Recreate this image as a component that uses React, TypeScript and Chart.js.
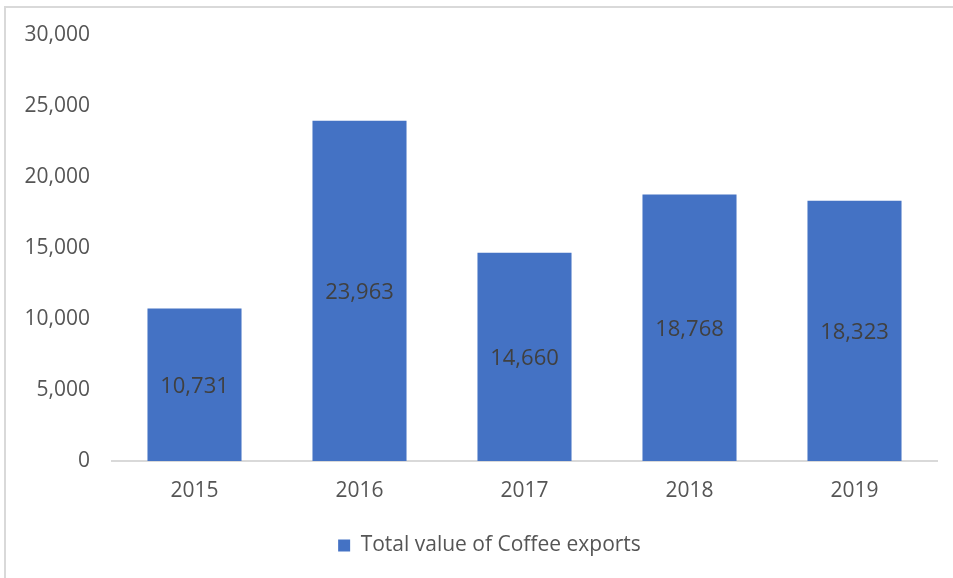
import React, { useEffect, useRef } from "react";
import { Chart, registerables } from "chart.js";

Chart.register(...registerables);

const years = ["2015", "2016", "2017", "2018", "2019"];
const exportValues = [10731, 23963, 14660, 18768, 18323];
const seriesLabel = "Total value of Coffee exports";
const yMax = 30000;
const yStep = 5000;

const FONT = "'Open Sans', 'Noto Sans', sans-serif";
const fmt = (v: number) => v.toLocaleString("en-US");

const dataLabelPlugin = {
  id: "centerLabels",
  afterDatasetsDraw(chart: any) {
    const ctx = chart.ctx;
    const meta = chart.getDatasetMeta(0);
    ctx.save();
    ctx.font = `22px ${FONT}`;
    ctx.fillStyle = "#404040";
    ctx.textAlign = "center";
    ctx.textBaseline = "middle";
    meta.data.forEach((el: any, i: number) => {
      const p = el.getProps(["x", "y", "base"], true);
      ctx.fillText(fmt(exportValues[i]), p.x, (p.y + p.base) / 2 + 2);
    });
    ctx.restore();
  },
};

// nudges the legend block slightly right, as in the reference
const legendShiftPlugin = {
  id: "legendShift",
  afterLayout(chart: any) {
    const lg = chart.legend;
    if (lg) {
      lg.left += 21;
      lg.right += 21;
    }
  },
};

export default function App() {
  const ref = useRef<HTMLCanvasElement>(null);
  useEffect(() => {
    if (!ref.current) return;
    const chart = new Chart(ref.current, {
      type: "bar",
      data: {
        labels: years,
        datasets: [
          {
            label: seriesLabel,
            data: exportValues,
            backgroundColor: "#4472C4",
            borderWidth: 0,
            categoryPercentage: 1,
            barPercentage: 0.57,
          },
        ],
      },
      options: {
        animation: false,
        responsive: false,
        maintainAspectRatio: false,
        layout: { padding: { top: 35, right: 16, bottom: 12, left: 0 } },
        plugins: {
          tooltip: { enabled: false },
          legend: {
            position: "bottom",
            labels: {
              color: "#555555",
              font: { family: FONT, size: 21 },
              boxWidth: 12,
              boxHeight: 12,
              padding: 10,
            },
          },
        },
        scales: {
          x: {
            grid: { display: false, drawTicks: false },
            border: { display: true, color: "#d9d9d9", width: 2 },
            ticks: { color: "#555555", font: { family: FONT, size: 21 }, padding: 17 },
            afterFit: (s: any) => {
              s.height = 64;
            },
          },
          y: {
            min: 0,
            max: yMax,
            grid: { display: false, drawTicks: false },
            border: { display: false },
            ticks: {
              stepSize: yStep,
              color: "#555555",
              font: { family: FONT, size: 21 },
              padding: 22,
              callback: (v: any) => fmt(Number(v)),
            },
            afterFit: (s: any) => {
              s.width = 112;
            },
          },
        },
      },
      plugins: [dataLabelPlugin, legendShiftPlugin],
    } as any);
    return () => chart.destroy();
  }, []);

  return (
    <div style={{ position: "fixed", left: 0, top: 0, width: 953, height: 578, overflow: "hidden", background: "#fff" }}>
      <div
        style={{
          position: "absolute",
          left: 4,
          top: 6,
          width: 1200,
          height: 800,
          border: "2px solid #d9d9d9",
          boxSizing: "border-box",
        }}
      />
      <canvas ref={ref} width={953} height={578} style={{ position: "absolute", left: 0, top: 0 }} />
    </div>
  );
}
